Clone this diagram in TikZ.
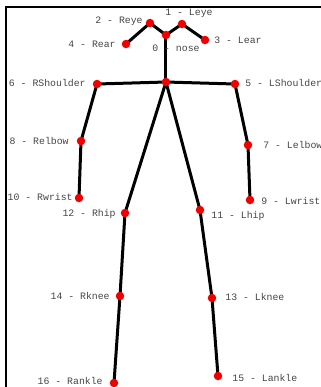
\documentclass[tikz,border=0pt]{standalone}
\usepackage{fontspec}
\setmonofont{Liberation Mono}
\usepackage{xcolor}
\usetikzlibrary{backgrounds}
\definecolor{ink}    {HTML}{000000}
\definecolor{inkgray}{HTML}{454545}
\definecolor{joint}  {HTML}{F00000}
\tikzset{
  kp/.style   ={circle, fill=joint, draw=none, minimum size=0.17cm, inner sep=0pt},
  bone/.style ={draw=ink, line width=0.06cm, line cap=round},
  tag/.style  ={font=\ttfamily\fontsize{5.6}{7}\selectfont, text=inkgray, inner sep=0pt},
  frame/.style={draw=ink, line width=0.045cm},
}
\begin{document}
\begin{tikzpicture}[x=0.02cm,y=-0.02cm]
  \useasboundingbox (0,0) rectangle (321,387);
  \clip (0,0) rectangle (321,387);
  \draw[frame] (6,7) rectangle (340,400);

  % joints
  \node[kp] (nose)  at (166,35)  {};
  \node[kp] (leye)  at (182,24)  {};
  \node[kp] (reye)  at (150,23)  {};
  \node[kp] (lear)  at (205,40)  {};
  \node[kp] (rear)  at (126,44)  {};
  \node[kp] (neck)  at (166,82)  {};
  \node[kp] (lsho)  at (235,84)  {};
  \node[kp] (rsho)  at (97,84)   {};
  \node[kp] (lelb)  at (248,145) {};
  \node[kp] (relb)  at (81,141)  {};
  \node[kp] (lwri)  at (250,200) {};
  \node[kp] (rwri)  at (79,198)  {};
  \node[kp] (lhip)  at (200,210) {};
  \node[kp] (rhip)  at (125,213) {};
  \node[kp] (lkne)  at (212,298) {};
  \node[kp] (rkne)  at (120,296) {};
  \node[kp] (lank)  at (218,376) {};
  \node[kp] (rank)  at (114,383) {};

  % skeleton
  \begin{scope}[on background layer]
  \foreach \a/\b in {nose/leye,nose/reye,reye/rear,leye/lear,nose/neck,
                     neck/rsho,neck/lsho,rsho/relb,relb/rwri,lsho/lelb,lelb/lwri,
                     neck/rhip,neck/lhip,rhip/rkne,rkne/rank,lhip/lkne,lkne/lank}
    \draw[bone] (\a.center) -- (\b.center);
  \end{scope}

  % labels
  \node[tag,anchor=west] (t0)  at (152,48)  {0 - nose};
  \node[tag,anchor=west] (t1)  at (165,13)  {1 - Leye};
  \node[tag,anchor=east] (t2)  at (143,21)  {2 - Reye};
  \node[tag,anchor=west] (t3)  at (214,40)  {3 - Lear};
  \node[tag,anchor=east] (t4)  at (116,44)  {4 - Rear};
  \node[tag,anchor=west] (t5)  at (245,83)  {5 - LShoulder};
  \node[tag,anchor=east] (t6)  at (86,83)   {6 - RShoulder};
  \node[tag,anchor=west] (t7)  at (263,145) {7 - Lelbow};
  \node[tag,anchor=east] (t8)  at (69,141)  {8 - Relbow};
  \node[tag,anchor=west] (t9)  at (261,201) {9 - Lwrist};
  \node[tag,anchor=east] (t10) at (73,197)  {10 - Rwrist};
  \node[tag,anchor=west] (t11) at (211,216) {11 - Lhip};
  \node[tag,anchor=east] (t12) at (116,214) {12 - Rhip};
  \node[tag,anchor=west] (t13) at (225,297) {13 - Lknee};
  \node[tag,anchor=east] (t14) at (110,296) {14 - Rknee};
  \node[tag,anchor=west] (t15) at (232,378) {15 - Lankle};
  \node[tag,anchor=east] (t16) at (103,381) {16 - Rankle};
\end{tikzpicture}
\end{document}
